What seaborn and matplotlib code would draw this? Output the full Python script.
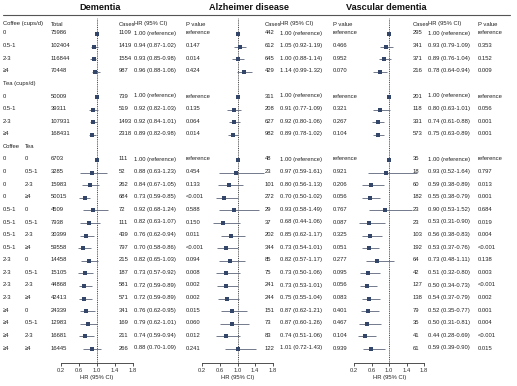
import numpy as np
import pandas as pd
import matplotlib
matplotlib.use('Agg')
import matplotlib.pyplot as plt
import seaborn as sns

nan = np.nan

# ---- data ----
levels = ['0', '0.5-1', '2-3', '≥4']
coffee_total = [75986, 102404, 116844, 70448]
tea_total = [50009, 39311, 107931, 168431]
ct_coffee = ['0'] * 4 + ['0.5-1'] * 4 + ['2-3'] * 4 + ['≥4'] * 4
ct_tea = levels * 4
ct_total = [6703, 3285, 15983, 50015, 4509, 7938, 30399, 59558,
            14458, 15105, 44868, 42413, 24339, 12983, 16681, 16445]

# order: 4 coffee, 4 tea, 16 coffee x tea
dem_cases = [1109, 1419, 1554, 987, 739, 519, 1493, 2318, 111, 52, 262, 684,
             72, 111, 439, 797, 215, 187, 581, 571, 341, 169, 211, 266]
dem_hr = [1.00, 0.94, 0.93, 0.96, 1.00, 0.92, 0.92, 0.89, 1.00, 0.88, 0.84, 0.73,
          0.92, 0.82, 0.76, 0.70, 0.82, 0.73, 0.72, 0.72, 0.76, 0.79, 0.74, 0.88]
dem_lo = [nan, 0.87, 0.85, 0.88, nan, 0.82, 0.84, 0.82, nan, 0.63, 0.67, 0.59,
          0.68, 0.63, 0.62, 0.58, 0.65, 0.57, 0.59, 0.59, 0.62, 0.62, 0.59, 0.70]
dem_hi = [nan, 1.02, 0.98, 1.06, nan, 1.03, 1.01, 0.98, nan, 1.23, 1.05, 0.85,
          1.24, 1.07, 0.94, 0.86, 1.03, 0.92, 0.89, 0.89, 0.95, 1.01, 0.94, 1.09]
dem_p = ['reference', '0.147', '0.014', '0.424', 'reference', '0.135', '0.064', '0.014',
         'reference', '0.454', '0.133', '<0.001', '0.588', '0.150', '0.011', '<0.001',
         '0.094', '0.008', '0.002', '0.002', '0.015', '0.060', '0.012', '0.241']

alz_cases = [442, 612, 645, 429, 311, 208, 627, 982, 48, 23, 101, 272,
             29, 37, 202, 344, 85, 75, 241, 244, 151, 73, 83, 122]
alz_hr = [1.00, 1.05, 1.00, 1.14, 1.00, 0.91, 0.92, 0.89, 1.00, 0.97, 0.80, 0.70,
          0.93, 0.68, 0.85, 0.73, 0.82, 0.73, 0.73, 0.75, 0.87, 0.87, 0.74, 1.01]
alz_lo = [nan, 0.92, 0.88, 0.99, nan, 0.77, 0.80, 0.78, nan, 0.59, 0.56, 0.50,
          0.58, 0.44, 0.62, 0.54, 0.57, 0.50, 0.53, 0.55, 0.62, 0.60, 0.51, 0.72]
alz_hi = [nan, 1.19, 1.14, 1.32, nan, 1.09, 1.06, 1.02, nan, 1.61, 1.13, 1.02,
          1.49, 1.06, 1.17, 1.01, 1.17, 1.06, 1.01, 1.04, 1.21, 1.26, 1.06, 1.43]
alz_p = ['reference', '0.466', '0.952', '0.070', 'reference', '0.321', '0.267', '0.104',
         'reference', '0.921', '0.206', '0.056', '0.767', '0.087', '0.325', '0.051',
         '0.277', '0.095', '0.056', '0.083', '0.401', '0.467', '0.104', '0.939']

vas_cases = [295, 341, 371, 216, 201, 118, 331, 573, 35, 18, 60, 182,
             23, 23, 103, 192, 64, 42, 127, 138, 79, 35, 41, 61]
vas_hr = [1.00, 0.93, 0.89, 0.78, 1.00, 0.80, 0.74, 0.75, 1.00, 0.93, 0.59, 0.55,
          0.90, 0.53, 0.56, 0.53, 0.73, 0.51, 0.50, 0.54, 0.52, 0.50, 0.44, 0.59]
vas_lo = [nan, 0.79, 0.76, 0.64, nan, 0.63, 0.61, 0.63, nan, 0.52, 0.38, 0.38,
          0.53, 0.31, 0.38, 0.37, 0.48, 0.32, 0.34, 0.37, 0.35, 0.31, 0.28, 0.39]
vas_hi = [nan, 1.09, 1.04, 0.94, nan, 1.01, 0.88, 0.89, nan, 1.64, 0.89, 0.79,
          1.52, 0.90, 0.83, 0.76, 1.11, 0.80, 0.73, 0.79, 0.77, 0.81, 0.69, 0.90]
vas_p = ['reference', '0.353', '0.152', '0.009', 'reference', '0.056', '0.001', '0.001',
         'reference', '0.797', '0.013', '0.001', '0.684', '0.019', '0.004', '<0.001',
         '0.138', '0.003', '<0.001', '0.002', '0.001', '0.004', '<0.001', '0.015']

xticks = [0.2, 0.6, 1.0, 1.4, 1.8]

# ---- layout (pixels) ----
W, H = 517, 386
row_ids = [0, 1, 2, 3, 5, 6, 7, 8] + list(range(10, 26))
ROW0, STEP = 34, 12.6
AX_TOP, AX_BOT = 18, 363
FS = 4.2
SQ = '#34456a'
LN = '#5b6478'


def ypx(i):
    return ROW0 + STEP * i


panels = [
    dict(title='Dementia', tx=100, x0=61, x1=133, cases=118.5, hr=134, p=185.5,
         c=dem_cases, h=dem_hr, lo=dem_lo, hi=dem_hi, pv=dem_p),
    dict(title='Alzheimer disease', tx=249, x0=202.3, x1=272.7, cases=265, hr=280, p=333,
         c=alz_cases, h=alz_hr, lo=alz_lo, hi=alz_hi, pv=alz_p),
    dict(title='Vascular dementia', tx=386, x0=354.3, x1=424, cases=412.5, hr=428, p=478,
         c=vas_cases, h=vas_hr, lo=vas_lo, hi=vas_hi, pv=vas_p),
]

sns.set_theme(style='white')
plt.rcParams['font.family'] = ['Liberation Sans', 'DejaVu Sans']

fig = plt.figure(figsize=(W / 100, H / 100), dpi=100)
bg = fig.add_axes([0, 0, 1, 1])
bg.set_xlim(0, W)
bg.set_ylim(H, 0)
bg.axis('off')


def txt(x, y, s, **kw):
    bg.text(x, y - 1, s, fontsize=FS, va='center', ha='left', color='#222222', **kw)


# left label columns
txt(3, 25, 'Coffee (cups/d)')
txt(51, 25, 'Total')
for k in range(4):
    txt(3, ypx(k), levels[k])
    txt(51, ypx(k), str(coffee_total[k]))
txt(3, ypx(4), 'Tea (cups/d)')
for k in range(4):
    txt(3, ypx(5 + k), levels[k])
    txt(51, ypx(5 + k), str(tea_total[k]))
txt(3, ypx(9), 'Coffee')
txt(24.5, ypx(9), 'Tea')
for k in range(16):
    txt(3, ypx(10 + k), ct_coffee[k])
    txt(24.5, ypx(10 + k), ct_tea[k])
    txt(51, ypx(10 + k), str(ct_total[k]))

bg.plot([3, 510], [15, 15], color='#555555', lw=0.8)

ylim_bot = (AX_BOT - ROW0) / STEP
ylim_top = (AX_TOP - ROW0) / STEP

for pn in panels:
    bg.text(pn['tx'], 7, pn['title'], fontsize=6.6, fontweight='bold',
            ha='center', va='center', color='#111111')
    txt(pn['cases'], 25, 'Cases')
    txt(pn['hr'], 25, 'HR (95% CI)')
    txt(pn['p'], 25, 'P value')

    df = pd.DataFrame({'row': row_ids, 'hr': pn['h'], 'lo': pn['lo'], 'hi': pn['hi'],
                       'cases': pn['c'], 'p': pn['pv']})
    for _, r in df.iterrows():
        y = ypx(r['row'])
        txt(pn['cases'], y, str(int(r['cases'])))
        if np.isnan(r['lo']):
            s = f"{r['hr']:.2f} (reference)"
        else:
            s = f"{r['hr']:.2f} ({r['lo']:.2f}-{r['hi']:.2f})"
        txt(pn['hr'], y, s)
        txt(pn['p'], y, r['p'])

    ax = fig.add_axes([pn['x0'] / W, (H - AX_BOT) / H, (pn['x1'] - pn['x0']) / W,
                       (AX_BOT - AX_TOP) / H])
    ax.patch.set_alpha(0)
    ci = df.dropna()
    ax.hlines(ci['row'], ci['lo'], ci['hi'], color=LN, lw=0.6, clip_on=False, zorder=2)
    sns.scatterplot(data=df, x='hr', y='row', marker='s', s=11, color=SQ,
                    linewidth=0, ax=ax, zorder=3, clip_on=False)
    ax.axvline(1.0, color='#333333', lw=0.6, ls=(0, (1.2, 1.0)), zorder=1)
    ax.set_xlim(0.2, 1.8)
    ax.set_ylim(ylim_bot, ylim_top)
    ax.set_xticks(xticks)
    ax.set_xticklabels([f'{t:.1f}' for t in xticks])
    ax.set_yticks([])
    ax.set_ylabel('')
    for side in ['top', 'right', 'left']:
        ax.spines[side].set_visible(False)
    ax.spines['bottom'].set_linewidth(0.6)
    ax.spines['bottom'].set_color('#333333')
    ax.tick_params(axis='x', direction='out', length=2, width=0.6, pad=1.5,
                   labelsize=FS, colors='#333333', bottom=True)
    ax.set_xlabel('HR (95% CI)', fontsize=FS, labelpad=1.5, color='#222222')

fig.savefig('out.png', dpi=100)
